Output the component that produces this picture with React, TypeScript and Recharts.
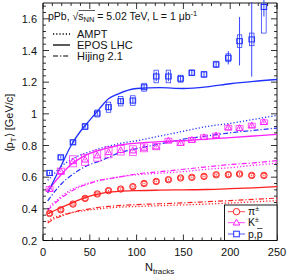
import { ComposedChart, Line, Scatter, XAxis, YAxis, ErrorBar, ReferenceArea } from 'recharts'

// measured multiplicity bins
const nBins = [7, 19, 32, 45, 58, 70, 83, 96, 108, 121, 134, 147, 159, 172, 185, 198, 210, 223, 236]

const pionMean = [0.371, 0.394, 0.43, 0.466, 0.494, 0.515, 0.525, 0.54, 0.56, 0.573, 0.584, 0.595, 0.599, 0.605, 0.615, 0.616, 0.62, 0.611, 0.611]
const pionStat = [0.004, 0.004, 0.004, 0.004, 0.004, 0.004, 0.004, 0.004, 0.004, 0.004, 0.004, 0.004, 0.004, 0.004, 0.005, 0.005, 0.005, 0.005, 0.005]
const pionSys = [0.012, 0.012, 0.012, 0.012, 0.012, 0.012, 0.012, 0.012, 0.012, 0.012, 0.012, 0.012, 0.012, 0.012, 0.012, 0.012, 0.012, 0.012, 0.012]

const kaonMean = [0.525, 0.637, 0.7, 0.71, 0.736, 0.757, 0.77, 0.768, 0.785, 0.793, 0.831, 0.816, 0.835, 0.852, 0.863, 0.913, 0.91, 0.926, 0.947]
const kaonStat = [0.005, 0.005, 0.005, 0.005, 0.005, 0.005, 0.005, 0.005, 0.005, 0.005, 0.005, 0.005, 0.006, 0.006, 0.006, 0.007, 0.008, 0.008, 0.01]
const kaonSys = [0.015, 0.02, 0.035, 0.035, 0.035, 0.035, 0.03, 0.03, 0.025, 0.02, 0.015, 0.015, 0.015, 0.015, 0.015, 0.015, 0.015, 0.015, 0.015]

const protonMean = [0.627, 0.725, 0.82, 0.92, 1.002, 1.042, 1.08, 1.084, 1.168, 1.236, 1.236, 1.222, 1.259, 1.249, 1.312, 1.354, 1.459, 1.47, 1.675]
const protonStat = [0.008, 0.008, 0.008, 0.01, 0.012, 0.02, 0.02, 0.02, 0.015, 0.03, 0.03, 0.02, 0.015, 0.015, 0.02, 0.042, 0.153, 0.235, 0.06]
const protonSys = [0.015, 0.015, 0.015, 0.02, 0.022, 0.032, 0.03, 0.03, 0.025, 0.04, 0.04, 0.022, 0.018, 0.018, 0.02, 0.025, 0.04, 0.04, 0.165]

// model curves
const nModel = [5, 10, 20, 30, 40, 50, 60, 70, 80, 100, 125, 150, 175, 200, 225, 250]

const eposPion = [0.37, 0.383, 0.41, 0.435, 0.46, 0.48, 0.495, 0.505, 0.51, 0.515, 0.518, 0.52, 0.522, 0.527, 0.533, 0.54]
const hijingPion = [0.31, 0.33, 0.355, 0.375, 0.39, 0.4, 0.41, 0.415, 0.42, 0.427, 0.432, 0.438, 0.445, 0.452, 0.46, 0.468]
const amptPion = [0.32, 0.34, 0.36, 0.375, 0.385, 0.393, 0.4, 0.405, 0.41, 0.415, 0.42, 0.425, 0.43, 0.437, 0.444, 0.451]

const eposKaon = [0.51, 0.55, 0.62, 0.68, 0.72, 0.75, 0.77, 0.785, 0.8, 0.815, 0.825, 0.83, 0.84, 0.85, 0.86, 0.87]
const hijingKaon = [0.39, 0.42, 0.47, 0.51, 0.54, 0.56, 0.58, 0.59, 0.6, 0.62, 0.635, 0.65, 0.665, 0.68, 0.69, 0.705]
const amptKaon = [0.4, 0.43, 0.48, 0.52, 0.545, 0.565, 0.58, 0.59, 0.6, 0.615, 0.625, 0.635, 0.65, 0.66, 0.675, 0.688]

const eposProton = [0.5, 0.56, 0.68, 0.8, 0.89, 0.96, 1.03, 1.095, 1.125, 1.16, 1.165, 1.16, 1.17, 1.19, 1.205, 1.217]
const hijingProton = [0.45, 0.49, 0.56, 0.61, 0.65, 0.68, 0.7, 0.725, 0.75, 0.78, 0.81, 0.84, 0.86, 0.88, 0.895, 0.91]
const amptProton = [0.58, 0.61, 0.67, 0.71, 0.74, 0.76, 0.78, 0.795, 0.81, 0.83, 0.86, 0.89, 0.92, 0.94, 0.965, 0.99]

const W = 289
const H = 277
const MARGIN = { top: 3, right: 12, bottom: 0, left: 0 }
const Y_AXIS_W = 43
const X_AXIS_H = 36.5
const X_MIN = 0
const X_MAX = 250
const Y_MIN = 0.2
const Y_MAX = 1.7
const PLOT_TOP = MARGIN.top
const PLOT_RIGHT = W - MARGIN.right
const PX_PER_UNIT = (H - MARGIN.top - MARGIN.bottom - X_AXIS_H) / (Y_MAX - Y_MIN)

const RED = '#ff2020'
const MAGENTA = '#ff20ff'
const BLUE = '#2030ff'
const FONT = 'Liberation Sans, Arial, sans-serif'

const DOTTED = '1.2 2'
const DASHDOT = '5 2 1.2 2'

const xTicks = Array.from({ length: 26 }, (_, i) => i * 10)
const yTicks = Array.from({ length: 38 }, (_, i) => Math.round((0.2 + i * 0.04) * 100) / 100)

const points = (mean: number[], stat: number[], sys: number[]) =>
  nBins.map((n, i) => ({ n, v: mean[i], stat: stat[i], sys: sys[i] }))

const curve = (vals: number[]) => nModel.map((n, i) => ({ n, v: vals[i] }))

const XTick = (props: any) => {
  const { x, y, payload } = props
  const v = payload.value
  const major = v % 50 === 0
  const len = major ? 6 : 3
  return (
    <g>
      <line x1={x} x2={x} y1={y} y2={y - len} stroke="#000" strokeWidth={0.8} />
      <line x1={x} x2={x} y1={PLOT_TOP} y2={PLOT_TOP + len} stroke="#000" strokeWidth={0.8} />
      {major && (
        <text x={x} y={y + 15} textAnchor="middle" fontSize={11} fontFamily={FONT} fill="#111">
          {v}
        </text>
      )}
    </g>
  )
}

const YTick = (props: any) => {
  const { x, y, payload } = props
  const v = payload.value
  const major = Math.abs(v * 5 - Math.round(v * 5)) < 1e-6
  const len = major ? 6 : 3
  return (
    <g>
      <line x1={x} x2={x + len} y1={y} y2={y} stroke="#000" strokeWidth={0.8} />
      <line x1={PLOT_RIGHT} x2={PLOT_RIGHT - len} y1={y} y2={y} stroke="#000" strokeWidth={0.8} />
      {major && (
        <text x={x - 6} y={y + 4} textAnchor="end" fontSize={11} fontFamily={FONT} fill="#111">
          {v === 1 ? '1' : v.toString()}
        </text>
      )}
    </g>
  )
}

const makeShape = (kind: 'circle' | 'triangle' | 'square', color: string, boxW: number) => (props: any) => {
  const { cx, cy, payload } = props
  if (cx == null || cy == null) return <g />
  const h = payload.sys * PX_PER_UNIT
  let marker
  if (kind === 'circle') marker = <circle cx={cx} cy={cy} r={3.2} fill="none" stroke={color} strokeWidth={1} />
  else if (kind === 'triangle')
    marker = (
      <polygon
        points={`${cx},${cy - 3.5} ${cx + 3.3},${cy + 2.3} ${cx - 3.3},${cy + 2.3}`}
        fill="none"
        stroke={color}
        strokeWidth={1}
      />
    )
  else marker = <rect x={cx - 2.8} y={cy - 2.5} width={5.6} height={5} fill="none" stroke={color} strokeWidth={1} />
  return (
    <g>
      <rect x={cx - boxW / 2} y={cy - h} width={boxW} height={2 * h} fill="none" stroke={color} strokeWidth={0.7} />
      {marker}
    </g>
  )
}

const LegendMarker = ({ kind, color, y }: { kind: string; color: string; y: number }) => {
  const cx = 236.5
  return (
    <g>
      <line x1={228} x2={245} y1={y} y2={y} stroke={color} strokeWidth={0.8} />
      {kind === 'circle' && <circle cx={cx} cy={y} r={3.2} fill="#fff" stroke={color} />}
      {kind === 'triangle' && (
        <polygon points={`${cx},${y - 3.5} ${cx + 3.3},${y + 2.3} ${cx - 3.3},${y + 2.3}`} fill="#fff" stroke={color} />
      )}
      {kind === 'square' && <rect x={cx - 2.8} y={y - 2.8} width={5.6} height={5.6} fill="#fff" stroke={color} />}
    </g>
  )
}

const series = [
  { key: 'pi', color: RED, kind: 'circle' as const, boxW: 4, pts: points(pionMean, pionStat, pionSys), epos: eposPion, hijing: hijingPion, ampt: amptPion },
  { key: 'k', color: MAGENTA, kind: 'triangle' as const, boxW: 7, pts: points(kaonMean, kaonStat, kaonSys), epos: eposKaon, hijing: hijingKaon, ampt: amptKaon },
  { key: 'p', color: BLUE, kind: 'square' as const, boxW: 4.5, pts: points(protonMean, protonStat, protonSys), epos: eposProton, hijing: hijingProton, ampt: amptProton },
]

export default function App() {
  return (
    <div style={{ position: 'absolute', left: 0, top: 0, width: W, height: H, background: '#fff' }}>
      <ComposedChart width={W} height={H} margin={MARGIN}>
        <XAxis
          xAxisId="x"
          dataKey="n"
          type="number"
          domain={[X_MIN, X_MAX]}
          ticks={xTicks}
          interval={0}
          allowDataOverflow
          height={X_AXIS_H}
          tickLine={false}
          axisLine={false}
          tickSize={0}
          tickMargin={0}
          tick={<XTick />}
        />
        <YAxis
          yAxisId="y"
          dataKey="v"
          type="number"
          domain={[Y_MIN, Y_MAX]}
          ticks={yTicks}
          interval={0}
          allowDataOverflow
          width={Y_AXIS_W}
          tickLine={false}
          axisLine={false}
          tickSize={0}
          tickMargin={0}
          tick={<YTick />}
        />
        <ReferenceArea
          xAxisId="x"
          yAxisId="y"
          x1={X_MIN}
          x2={X_MAX}
          y1={Y_MIN}
          y2={Y_MAX}
          fill="none"
          fillOpacity={0}
          stroke="#000"
          strokeWidth={0.9}
          ifOverflow="visible"
        />
        {series.map((s) => (
          <Line
            key={s.key + '-ampt'}
            xAxisId="x"
            yAxisId="y"
            data={curve(s.ampt)}
            dataKey="v"
            type="monotone"
            stroke={s.color}
            strokeWidth={1.3}
            strokeDasharray={DOTTED}
            dot={false}
            activeDot={false}
            isAnimationActive={false}
          />
        ))}
        {series.map((s) => (
          <Line
            key={s.key + '-hijing'}
            xAxisId="x"
            yAxisId="y"
            data={curve(s.hijing)}
            dataKey="v"
            type="monotone"
            stroke={s.color}
            strokeWidth={1.2}
            strokeDasharray={DASHDOT}
            dot={false}
            activeDot={false}
            isAnimationActive={false}
          />
        ))}
        {series.map((s) => (
          <Line
            key={s.key + '-epos'}
            xAxisId="x"
            yAxisId="y"
            data={curve(s.epos)}
            dataKey="v"
            type="monotone"
            stroke={s.color}
            strokeWidth={1.3}
            dot={false}
            activeDot={false}
            isAnimationActive={false}
          />
        ))}
        {series.map((s) => (
          <Scatter
            key={s.key + '-data'}
            xAxisId="x"
            yAxisId="y"
            data={s.pts}
            dataKey="v"
            shape={makeShape(s.kind, s.color, s.boxW)}
            isAnimationActive={false}
          >
            <ErrorBar dataKey="stat" direction="y" width={0} stroke={s.color} strokeWidth={0.9} />
          </Scatter>
        ))}
      </ComposedChart>
      <svg
        width={W}
        height={H}
        style={{ position: 'absolute', left: 0, top: 0, pointerEvents: 'none' }}
        fontFamily={FONT}
      >
        <text x={48} y={19.5} fontSize={10.5} fill="#111">
          pPb, <tspan>√</tspan>
          <tspan>s</tspan>
          <tspan fontSize={7.5} dy={2.5}>NN</tspan>
          <tspan dy={-2.5}> = 5.02 TeV, L = 1 μb</tspan>
          <tspan fontSize={7.5} dy={-4}>-1</tspan>
        </text>
        <line x1={78.5} x2={95} y1={10.5} y2={10.5} stroke="#111" strokeWidth={0.7} />

        <line x1={53} x2={70} y1={34} y2={34} stroke="#000" strokeWidth={1.3} strokeDasharray={DOTTED} />
        <line x1={53} x2={70} y1={45} y2={45} stroke="#000" strokeWidth={1.3} />
        <line x1={53} x2={70} y1={56} y2={56} stroke="#000" strokeWidth={1.2} strokeDasharray={DASHDOT} />
        <text x={77} y={38} fontSize={11} fill="#111">AMPT</text>
        <text x={77} y={49} fontSize={11} fill="#111">EPOS LHC</text>
        <text x={77} y={60} fontSize={11} fill="#111">Hijing 2.1</text>

        <rect x={224.5} y={205} width={PLOT_RIGHT - 224.5} height={35.5} fill="#fff" stroke="#000" strokeWidth={0.9} />
        <LegendMarker kind="circle" color={RED} y={211.7} />
        <LegendMarker kind="triangle" color={MAGENTA} y={222.7} />
        <LegendMarker kind="square" color={BLUE} y={234} />
        <text x={248} y={215} fontSize={10.5} fill="#111">
          π<tspan fontSize={7} dy={-4}>±</tspan>
        </text>
        <text x={248} y={226} fontSize={10.5} fill="#111">
          K<tspan fontSize={7} dy={-4}>±</tspan>
        </text>
        <text x={248} y={237.5} fontSize={10.5} fill="#111">
          p,p
        </text>
        <line x1={257} x2={262.5} y1={228.5} y2={228.5} stroke="#111" strokeWidth={0.7} />

        <text x={145} y={271} fontSize={11} fill="#111">
          N<tspan fontSize={8} dy={3}>tracks</tspan>
        </text>
        <text transform="translate(13,123) rotate(-90)" textAnchor="middle" fontSize={11} fill="#111">
          ⟨p<tspan fontSize={8} dy={3}>T</tspan>
          <tspan dy={-3}>⟩ [GeV/c]</tspan>
        </text>
      </svg>
    </div>
  )
}
